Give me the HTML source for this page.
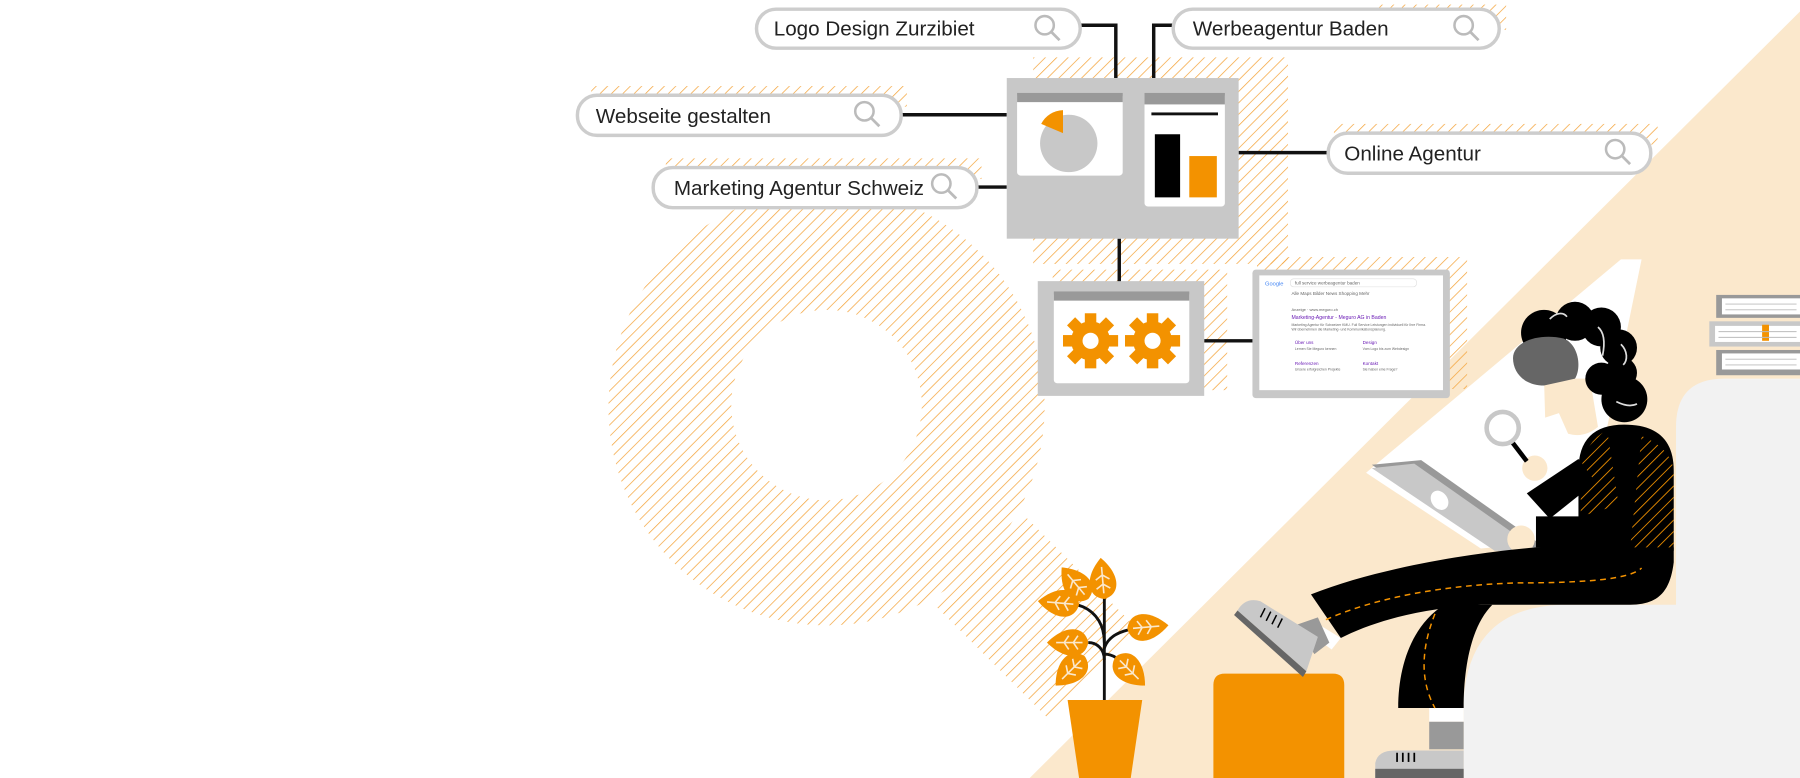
<!DOCTYPE html>
<html><head><meta charset="utf-8"><style>
html,body{margin:0;padding:0;background:#fff;}
svg{display:block;}
text{font-family:"Liberation Sans",sans-serif;}
</style></head><body>
<svg width="1800" height="778" viewBox="0 0 1568 678" preserveAspectRatio="none" xmlns="http://www.w3.org/2000/svg">
<defs>
<pattern id="h" width="7" height="7" patternUnits="userSpaceOnUse" patternTransform="rotate(45)">
<line x1="0" y1="0" x2="0" y2="7" stroke="#f4a640" stroke-width="1.3"/>
</pattern>
<pattern id="hd" width="7" height="7" patternUnits="userSpaceOnUse" patternTransform="rotate(45)">
<line x1="0" y1="0" x2="0" y2="7" stroke="#f39200" stroke-width="1.5"/>
</pattern>
<g id="mag"><circle cx="0" cy="0" r="8" fill="none" stroke="#bbb" stroke-width="2.2"/><line x1="6" y1="6" x2="13" y2="13" stroke="#bbb" stroke-width="2.4"/></g>
<g id="gear"><g fill="#f39200">
<circle r="17"/>
<rect x="-5" y="-24" width="10" height="48"/>
<rect x="-5" y="-24" width="10" height="48" transform="rotate(45)"/>
<rect x="-5" y="-24" width="10" height="48" transform="rotate(90)"/>
<rect x="-5" y="-24" width="10" height="48" transform="rotate(135)"/>
</g><circle r="7" fill="#fff"/></g>
<g id="leaf"><path d="M0,0 C3,-15 20,-16 36,0 C20,16 3,15 0,0 Z" fill="#f39200"/><path d="M5,0 L28,0 M13,0 L9,-6 M13,0 L9,6 M21,0 L17,-6 M21,0 L17,6" stroke="#fbe8cc" stroke-width="1.4" fill="none"/></g>
</defs>

<!-- beige background triangle -->
<polygon points="897,678 1568,10 1568,678" fill="#fbe8cc"/>
<!-- white band -->
<polygon points="1190,412 1412,226 1430,226 1380,470 1290,478" fill="#fff"/>

<!-- big magnifier hatch -->
<path d="M530,355 a190,190 0 1,0 380,0 a190,190 0 1,0 -380,0 Z M637,353 a83,83 0 1,1 166,0 a83,83 0 1,1 -166,0 Z" fill="url(#h)" fill-rule="evenodd"/>
<polygon points="893,450 992,549 914,627 815,528" fill="url(#h)"/>

<!-- small hatch patches -->
<rect x="900" y="50" width="222" height="180" fill="url(#h)"/>
<rect x="1200" y="4" width="112" height="22" fill="url(#h)"/>
<rect x="515" y="75" width="275" height="18" fill="url(#h)"/>
<rect x="580" y="138" width="275" height="18" fill="url(#h)"/>
<rect x="1162" y="108" width="282" height="18" fill="url(#h)"/>
<rect x="917" y="235" width="152" height="105" fill="url(#h)"/>
<rect x="1095" y="224" width="183" height="115" fill="url(#h)"/>

<!-- connectors -->
<g stroke="#111" stroke-width="3" fill="none">
<polyline points="941,22 972,22 972,68"/>
<polyline points="1022,22 1005,22 1005,68"/>
<line x1="785" y1="100" x2="877" y2="100"/>
<line x1="851" y1="163" x2="877" y2="163"/>
<line x1="1157" y1="133" x2="1079" y2="133"/>
<line x1="975" y1="208" x2="975" y2="246"/>
<line x1="1049" y1="297" x2="1093" y2="297"/>
</g>

<!-- search boxes -->
<g fill="#fff" stroke="#cdcdcd" stroke-width="3">
<rect x="659" y="8" width="282" height="34" rx="17"/>
<rect x="1022" y="8" width="284" height="34" rx="17"/>
<rect x="503" y="83" width="282" height="35" rx="17"/>
<rect x="569" y="146" width="282" height="35" rx="17"/>
<rect x="1157" y="116" width="281" height="35" rx="17"/>
</g>
<g font-size="18" fill="#222">
<text x="674" y="31">Logo Design Zurzibiet</text>
<text x="1039" y="31">Werbeagentur Baden</text>
<text x="519" y="107">Webseite gestalten</text>
<text x="587" y="170">Marketing Agentur Schweiz</text>
<text x="1171" y="140">Online Agentur</text>
</g>
<use href="#mag" x="910" y="22"/>
<use href="#mag" x="1275" y="22"/>
<use href="#mag" x="753" y="97"/>
<use href="#mag" x="820" y="160"/>
<use href="#mag" x="1407" y="130"/>

<!-- main panel -->
<rect x="877" y="68" width="202" height="140" fill="#c8c8c8"/>
<rect x="886" y="81" width="92" height="72" rx="3" fill="#fff"/>
<rect x="886" y="81" width="92" height="8" fill="#999"/>
<circle cx="931" cy="125" r="25" fill="#c8c8c8"/>
<path d="M926,116 L926,96 A22,22 0 0,0 907,108 Z" fill="#f39200"/>
<rect x="997" y="81" width="70" height="99" rx="3" fill="#fff"/>
<rect x="997" y="81" width="70" height="10" fill="#999"/>
<rect x="1003" y="98" width="58" height="2.5" fill="#111"/>
<rect x="1006" y="117" width="22" height="55" fill="#000"/>
<rect x="1036" y="136" width="24" height="36" fill="#f39200"/>

<!-- gears panel -->
<rect x="904" y="245" width="145" height="100" fill="#c8c8c8"/>
<rect x="918" y="254" width="118" height="80" rx="3" fill="#fff"/>
<rect x="918" y="254" width="118" height="8" fill="#999"/>
<use href="#gear" x="950" y="297"/>
<use href="#gear" x="1004" y="297"/>

<!-- google panel -->
<rect x="1091" y="235" width="172" height="112" rx="3" fill="#c8c8c8"/>
<rect x="1097" y="240" width="160" height="100" fill="#fff"/>
<g font-size="4" fill="#666">
<text x="1102" y="249" fill="#4285f4" font-size="5">Google</text>
<rect x="1124" y="243" width="110" height="7" rx="3" fill="none" stroke="#ddd" stroke-width="0.5"/>
<text x="1128" y="248">full service werbeagentur baden</text>
<text x="1125" y="257">Alle  Maps  Bilder  News  Shopping  Mehr</text>
<text x="1125" y="271" font-size="3.5">Anzeige · www.meguro.ch</text>
<text x="1125" y="278" fill="#6a1bb5" font-size="4.5">Marketing-Agentur - Meguro AG in Baden</text>
<text x="1125" y="284" font-size="3">Marketing Agentur für Schweizer KMU. Full Service Leistungen individuell für Ihre Firma.</text>
<text x="1125" y="288" font-size="3">Wir übernehmen die Marketing- und Kommunikationsplanung.</text>
<text x="1128" y="300" fill="#6a1bb5" font-size="4">Über uns</text>
<text x="1187" y="300" fill="#6a1bb5" font-size="4">Design</text>
<text x="1128" y="318" fill="#6a1bb5" font-size="4">Referenzen</text>
<text x="1187" y="318" fill="#6a1bb5" font-size="4">Kontakt</text>
<text x="1128" y="305" font-size="3">Lernen Sie Meguro kennen</text>
<text x="1187" y="305" font-size="3">Vom Logo bis zum Webdesign</text>
<text x="1128" y="323" font-size="3">Unsere erfolgreichen Projekte</text>
<text x="1187" y="323" font-size="3">Sie haben eine Frage?</text>
</g>

<!-- plant -->
<g stroke="#111" stroke-width="2.5" fill="none">
<line x1="962" y1="505" x2="962" y2="610"/>
<path d="M962,560 C962,540 950,530 938,527"/>
<path d="M962,575 C962,565 955,560 948,560"/>
<path d="M962,565 C965,555 975,550 988,548"/>
<path d="M962,570 C970,570 975,575 980,580"/>
</g>
<use href="#leaf" transform="translate(962,522) rotate(-95)"/>
<use href="#leaf" transform="translate(948,522) rotate(-130)"/>
<use href="#leaf" transform="translate(940,527) rotate(185)"/>
<use href="#leaf" transform="translate(948,560) rotate(180)"/>
<use href="#leaf" transform="translate(945,572) rotate(135)"/>
<use href="#leaf" transform="translate(982,548) rotate(-5)"/>
<use href="#leaf" transform="translate(972,572) rotate(45)"/>
<polygon points="930,610 995,610 985,678 940,678" fill="#f39200"/>

<!-- orange box -->
<path d="M1057,678 L1057,597 Q1057,587 1067,587 L1161,587 Q1171,587 1171,597 L1171,678 Z" fill="#f39200"/>

<!-- seat -->
<path d="M1275,678 L1275,610 Q1280,530 1360,527 L1460,527 L1460,372 Q1460,330 1502,330 L1568,330 L1568,678 Z" fill="#f2f2f2"/>

<!-- books -->
<rect x="1495" y="257" width="73" height="20" fill="#999"/>
<rect x="1500" y="260" width="68" height="14" fill="#fff"/>
<rect x="1489" y="280" width="79" height="22" fill="#c8c8c8"/>
<rect x="1494" y="284" width="74" height="14" fill="#fff"/>
<rect x="1535" y="283" width="6" height="14" fill="#f39200"/>
<rect x="1495" y="305" width="73" height="22" fill="#999"/>
<rect x="1500" y="308" width="68" height="14" fill="#fff"/>
<g stroke="#bbb" stroke-width="0.8">
<line x1="1503" y1="265" x2="1565" y2="265"/><line x1="1503" y1="270" x2="1565" y2="270"/>
<line x1="1497" y1="289" x2="1565" y2="289"/><line x1="1497" y1="294" x2="1565" y2="294"/>
<line x1="1503" y1="313" x2="1565" y2="313"/><line x1="1503" y1="318" x2="1565" y2="318"/>
</g>

<!-- person: lower leg -->
<path d="M1258,527 L1300,527 C1282,545 1275,580 1275,617 L1218,617 C1218,580 1230,545 1258,527 Z" fill="#000"/>
<rect x="1245" y="617" width="30" height="12" fill="#fff"/>
<rect x="1245" y="629" width="30" height="24" fill="#999"/>
<path d="M1198,678 L1198,665 Q1200,654 1215,654 L1275,654 L1275,678 Z" fill="#c8c8c8"/>
<rect x="1198" y="670" width="77" height="8" fill="#666"/>
<g stroke="#000" stroke-width="1.5"><line x1="1217" y1="656" x2="1217" y2="664"/><line x1="1222" y1="656" x2="1222" y2="664"/><line x1="1227" y1="656" x2="1227" y2="664"/><line x1="1232" y1="656" x2="1232" y2="664"/></g>
<path d="M1250,535 C1240,560 1235,590 1250,617" stroke="#f39200" stroke-width="1.3" stroke-dasharray="5,4" fill="none"/>

<!-- laptop -->
<polygon points="1195,405 1238,401 1350,480 1305,480" fill="#999"/>
<polygon points="1195,408 1232,404 1340,480 1302,480" fill="#c8c8c8"/>
<ellipse cx="1254" cy="436" rx="7" ry="9" fill="#fff" transform="rotate(-35 1254 436)"/>
<circle cx="1325" cy="470" r="12" fill="#fbe8cc"/>

<!-- torso -->
<path d="M1338,477 L1338,450 L1375,450 L1375,410 Q1375,370 1415,370 Q1458,370 1458,410 L1458,480 Z" fill="#000"/>
<path d="M1377,450 L1377,412 Q1380,385 1400,375 L1410,440 Z" fill="url(#hd)"/>
<path d="M1420,478 L1430,380 Q1455,390 1458,410 L1458,478 Z" fill="url(#hd)"/>
<!-- upper leg -->
<path d="M1142,518 C1200,495 1280,482 1338,477 L1458,477 L1458,490 C1455,515 1445,527 1420,527 L1290,527 C1240,530 1200,540 1168,556 Z" fill="#000"/>
<path d="M1155,540 C1200,520 1260,510 1320,508 C1380,508 1420,505 1430,495" stroke="#f39200" stroke-width="1.3" stroke-dasharray="5,4" fill="none"/>
<!-- shoe 1 -->
<polygon points="1142,540 1168,556 1160,566 1138,550" fill="#fff"/>
<polygon points="1128,545 1148,538 1158,560 1145,570" fill="#999"/>
<path d="M1078,532 Q1085,520 1098,524 L1148,555 L1138,585 Z" fill="#c8c8c8"/>
<polygon points="1078,532 1138,585 1135,590 1075,536" fill="#666"/>
<g stroke="#000" stroke-width="1.3"><line x1="1102" y1="530" x2="1098" y2="538"/><line x1="1107" y1="533" x2="1103" y2="541"/><line x1="1112" y1="536" x2="1108" y2="544"/><line x1="1117" y1="539" x2="1113" y2="547"/></g>

<!-- arm -->
<polygon points="1375,400 1390,420 1350,452 1330,430" fill="#000"/>
<circle cx="1337" cy="408" r="11" fill="#fbe8cc"/>
<!-- magnifier in hand -->
<line x1="1317" y1="385" x2="1330" y2="402" stroke="#000" stroke-width="4"/>
<circle cx="1309" cy="373" r="14" fill="none" stroke="#c8c8c8" stroke-width="4"/>

<!-- head -->
<path d="M1345,330 L1385,330 L1392,372 Q1380,382 1366,378 L1358,360 L1346,364 Z" fill="#fbe8cc"/>
<g fill="#000">
<circle cx="1345" cy="290" r="20"/>
<circle cx="1372" cy="280" r="17"/>
<circle cx="1395" cy="285" r="17"/>
<circle cx="1410" cy="303" r="16"/>
<circle cx="1412" cy="325" r="14"/>
<circle cx="1415" cy="348" r="20"/>
<circle cx="1395" cy="330" r="14"/>
</g>
<path d="M1318,312 C1318,298 1340,290 1362,295 C1375,300 1378,320 1372,330 L1345,336 C1328,336 1318,325 1318,312 Z" fill="#666"/>
<g stroke="#ddd" stroke-width="1.5" fill="none">
<path d="M1350,278 C1356,272 1362,272 1365,276"/>
<path d="M1392,285 C1398,290 1398,300 1396,310"/>
<path d="M1412,300 C1418,306 1418,314 1414,318"/>
<path d="M1408,350 C1416,354 1422,354 1426,352"/>
</g>
</svg>
</body></html>
